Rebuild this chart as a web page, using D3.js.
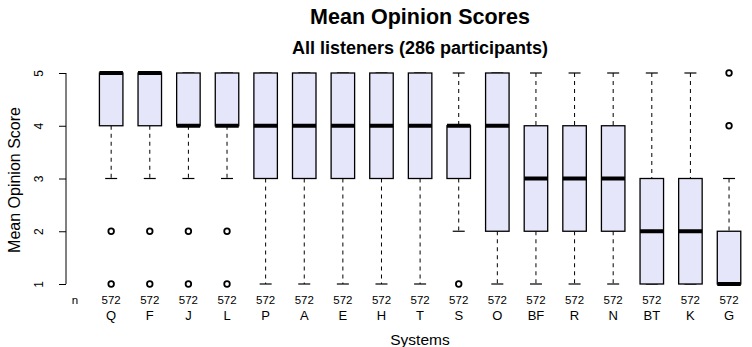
<!DOCTYPE html>
<html><head><meta charset="utf-8">
<script src="https://cdn.jsdelivr.net/npm/d3@7"></script>
<style>body{margin:0;background:#fff}svg{font-family:"Liberation Sans",Arial,sans-serif}</style>
</head><body><svg id="c" width="752" height="347"></svg>
<script>
const systems = ["Q","F","J","L","P","A","E","H","T","S","O","BF","R","N","BT","K","G"];
const nCounts = [572,572,572,572,572,572,572,572,572,572,572,572,572,572,572,572,572];
const whiskerLow = [3,3,3,3,1,1,1,1,1,2,1,1,1,1,1,1,1];
const q1 =         [4,4,4,4,3,3,3,3,3,3,2,2,2,2,1,1,1];
const medians =    [5,5,4,4,4,4,4,4,4,4,4,3,3,3,2,2,1];
const q3 =         [5,5,5,5,5,5,5,5,5,4,5,4,4,4,3,3,2];
const whiskerHigh =[5,5,5,5,5,5,5,5,5,5,5,5,5,5,5,5,3];
const outliers =   [[2,1],[2,1],[2,1],[2,1],[],[],[],[],[],[1],[],[],[],[],[],[],[4,5]];
const yTicks = [1,2,3,4,5];

const svg = d3.select("#c");
const x = d3.scaleLinear().domain([1-1.18, 17+1.18]).range([65.6, 774.6]);
const y = d3.scaleLinear().domain([1,5]).range([284,73]);
const boxW = 23.5, capW = 12;

// y axis
const yAxis = d3.axisLeft(y).tickValues(yTicks).tickSize(7).tickFormat(d3.format("d"));
const ga = svg.append("g").attr("transform","translate(66,0)").call(yAxis);
ga.select(".domain").attr("stroke","#000").attr("d","M0,"+y(5)+"V"+y(1));
ga.selectAll(".tick line").attr("stroke","#000");
ga.selectAll(".tick text").attr("x",null).attr("dy",null)
  .attr("transform","translate(-27,0) rotate(-90)").attr("text-anchor","middle").attr("dominant-baseline","central")
  .attr("font-size",12).attr("font-family","Liberation Sans, Arial, sans-serif").attr("fill","#000");

systems.forEach((s,i)=>{
  const cx = x(i+1);
  const g = svg.append("g");
  if (whiskerLow[i] < q1[i]) {
    g.append("line").attr("x1",cx).attr("x2",cx).attr("y1",y(q1[i])).attr("y2",y(whiskerLow[i]))
      .attr("stroke","#000").attr("stroke-dasharray","4,4").attr("stroke-width",1);
  }
  g.append("line").attr("x1",cx-capW/2).attr("x2",cx+capW/2).attr("y1",y(whiskerLow[i])).attr("y2",y(whiskerLow[i]))
      .attr("stroke","#000").attr("stroke-width",1.2);
  if (whiskerHigh[i] > q3[i]) {
    g.append("line").attr("x1",cx).attr("x2",cx).attr("y1",y(whiskerHigh[i])).attr("y2",y(q3[i]))
      .attr("stroke","#000").attr("stroke-dasharray","4,4").attr("stroke-width",1);
  }
  g.append("line").attr("x1",cx-capW/2).attr("x2",cx+capW/2).attr("y1",y(whiskerHigh[i])).attr("y2",y(whiskerHigh[i]))
      .attr("stroke","#000").attr("stroke-width",1.2);
  g.append("rect").attr("x",cx-boxW/2).attr("width",boxW).attr("y",y(q3[i])).attr("height",y(q1[i])-y(q3[i]))
    .attr("fill","#E6E6FA").attr("stroke","#000").attr("stroke-width",1.3);
  g.append("line").attr("x1",cx-boxW/2).attr("x2",cx+boxW/2).attr("y1",y(medians[i])).attr("y2",y(medians[i]))
    .attr("stroke","#000").attr("stroke-width",4);
  outliers[i].forEach(v=>{
    g.append("circle").attr("cx",cx).attr("cy",y(v)).attr("r",2.8).attr("fill","#fff").attr("stroke","#000").attr("stroke-width",1.8);
  });
  svg.append("text").attr("x",cx).attr("y",304).attr("text-anchor","middle").attr("font-size",11.5).text(nCounts[i]);
  svg.append("text").attr("x",cx).attr("y",320).attr("text-anchor","middle").attr("font-size",13).text(s);
});
svg.append("text").attr("x",75).attr("y",304).attr("text-anchor","middle").attr("font-size",11.5).text("n");

svg.append("text").attr("x",420).attr("y",24).attr("text-anchor","middle").attr("font-size",21.5).attr("font-weight","bold").text("Mean Opinion Scores");
svg.append("text").attr("x",420).attr("y",54).attr("text-anchor","middle").attr("font-size",18).attr("font-weight","bold").text("All listeners (286 participants)");
svg.append("text").attr("x",420).attr("y",345).attr("text-anchor","middle").attr("font-size",15.5).text("Systems");
svg.append("text").attr("transform","translate(20,180) rotate(-90)").attr("text-anchor","middle").attr("font-size",16).text("Mean Opinion Score");
</script></body></html>
